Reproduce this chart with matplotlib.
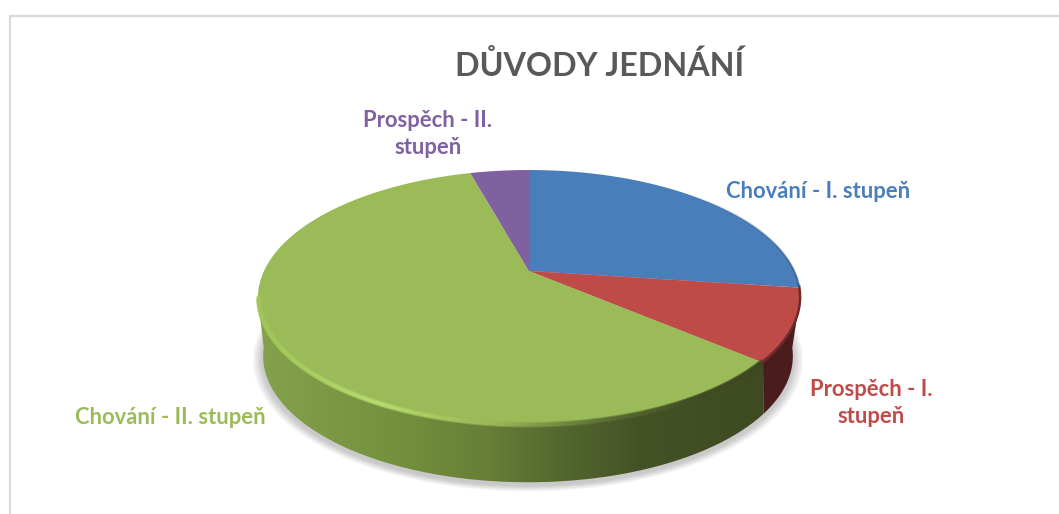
import numpy as np
import matplotlib
matplotlib.use('Agg')
import matplotlib.pyplot as plt
from matplotlib.collections import LineCollection
from matplotlib.colors import LinearSegmentedColormap
from matplotlib.patches import PathPatch, Polygon
from matplotlib.path import Path

plt.rcParams['font.family'] = ['Lato', 'Open Sans', 'DejaVu Sans']

# data, clockwise from 12 o'clock
labels = ['Chování - I. stupeň', 'Prospěch - I.\nstupeň', 'Chování - II. stupeň', 'Prospěch - II.\nstupeň']
values = [27.1, 9.1, 59.5, 4.3]
colors = ['#4a7ebb', '#be4b48', '#9bbb59', '#7f60a0']
title = 'DŮVODY JEDNÁNÍ'

# where the labels sit (pixels)
label_pos = [(818, 191), (871, 403), (170, 418), (428, 134)]

W, H = 1059, 514
fig = plt.figure(figsize=(W / 100, H / 100), dpi=100)
ax = fig.add_axes([0, 0, 1, 1])
ax.set_xlim(0, W)
ax.set_ylim(H, 0)
ax.axis('off')

CX = 529


# perspective circle -> screen, top disc and bottom disc
def top_disc(phi):
    u, v = np.cos(phi), np.sin(phi)
    w = 1 + 0.211 * v
    return CX + 265 * u / w, 271 - 122.3 * v / w


def bottom_disc(phi):
    u, v = np.cos(phi), np.sin(phi)
    w = 1 + 0.27 * v
    return CX - 1 + 255 * u / w, 322 - 117 * v / w


def arc(func, a, b, n=200):
    x, y = func(np.linspace(a, b, n))
    return np.column_stack([x, y])


# slice edges, math angle in radians going clockwise
fractions = np.cumsum([0] + values) / sum(values)
edges = np.pi / 2 - 2 * np.pi * fractions

# outer frame
ax.plot([9.5, 9.5, W], [H, 15.5, 15.5], color='#d9d9d9', lw=1.6, solid_joinstyle='miter')

# soft shadow under the pie
for i in range(30):
    s = 1.0 + 0.0014 * i
    x, y = bottom_disc(np.linspace(0, 2 * np.pi, 200))
    x = CX + (x - CX) * s
    y = 325 + (y - 325) * s + 3
    ax.add_patch(Polygon(np.column_stack([x, y]), closed=True, fc='#909090', ec='none', alpha=0.016, zorder=1))

# side wall, only the part facing us
left_end = np.radians(192)
right_end = np.radians(348) - 2 * np.pi

wall_cmap = LinearSegmentedColormap.from_list('wall', [
    (0.00, '#84a24b'), (0.25, '#75933f'), (0.45, '#677f38'), (0.60, '#54672e'),
    (0.75, '#445326'), (1.00, '#3e4a22')])

green_end = edges[2]
top_pts = arc(top_disc, left_end - 2 * np.pi, green_end)
bot_pts = arc(bottom_disc, left_end - 2 * np.pi, green_end)
wall = np.vstack([top_pts, bot_pts[::-1]])
patch = PathPatch(Path(np.vstack([wall, wall[0]])), fc='none', ec='none', zorder=2)
ax.add_patch(patch)
grad = ax.imshow(np.linspace(0, 1, 256)[None, :], extent=(258, 765, 490, 290), cmap=wall_cmap,
                 aspect='auto', zorder=2)
grad.set_clip_path(patch)
ax.set_xlim(0, W)
ax.set_ylim(H, 0)

# red wall
top_pts = arc(top_disc, edges[2], right_end)
bot_pts = arc(bottom_disc, edges[2], right_end)
ax.add_patch(Polygon(np.vstack([top_pts, bot_pts[::-1]]), closed=True, fc='#4a1c1c', ec='none', zorder=2))

# top surface
for i in range(len(values)):
    pts = arc(top_disc, edges[i], edges[i + 1])
    pts = np.vstack([[CX, 271], pts])
    ax.add_patch(Polygon(pts, closed=True, fc=colors[i], ec='none', zorder=3))

# bevel along the front rim of the green slice, pulled a little inside the edge
pts = arc(top_disc, left_end - 2 * np.pi, green_end, 300)
pts[:, 0] = CX + (pts[:, 0] - CX) * 0.996
pts[:, 1] = 271 + (pts[:, 1] - 271) * 0.992
segs = np.stack([pts[:-1], pts[1:]], axis=1)
xs = pts[:-1, 0]
stops = [258, 380, 500, 600, 700, 765]
rim = np.column_stack([
    np.interp(xs, stops, [160, 182, 150, 92, 62, 62]),
    np.interp(xs, stops, [196, 220, 180, 112, 74, 72]),
    np.interp(xs, stops, [88, 108, 85, 52, 34, 32]),
]) / 255
ax.add_collection(LineCollection(segs, colors=rim, linewidths=4.0, alpha=0.35, zorder=4, capstyle='round'))
ax.add_collection(LineCollection(segs, colors=rim, linewidths=2.0, zorder=4, capstyle='round'))

# darker rim on red and blue, the blue one fades in
pts = arc(top_disc, edges[1], edges[2])
ax.plot(pts[:, 0], pts[:, 1] - 1, color='#6e2a2a', lw=1.8, zorder=4)
pts = arc(top_disc, np.radians(45), edges[1], 100)
segs = np.stack([pts[:-1], pts[1:]], axis=1)
blue_rim = np.tile([0.2, 0.36, 0.55, 0.0], (len(segs), 1))
blue_rim[:, 3] = np.linspace(0, 1, len(segs))
ax.add_collection(LineCollection(segs, colors=blue_rim, linewidths=1.4, zorder=4))

# texts
ax.text(599.5, 65, title, color='#595959', fontsize=23.2, fontweight='bold', ha='center', va='center')
for lab, (x, y), c in zip(labels, label_pos, colors):
    ax.text(x, y, lab, color=c, fontsize=15.8, fontweight='bold', ha='center', va='center', linespacing=1.36)

fig.savefig('out.png', dpi=100)
